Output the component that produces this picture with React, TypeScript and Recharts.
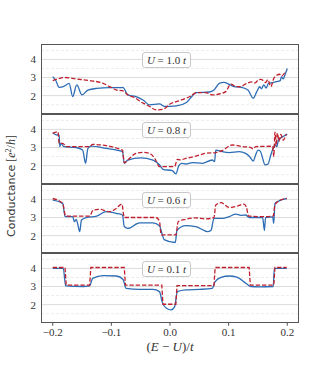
import { LineChart, Line, XAxis, YAxis, ReferenceLine } from "recharts";

const xTicks = [-0.2, -0.1, 0, 0.1, 0.2];
const yTicks = [2, 3, 4];
const gridMajor = [2, 3, 4];
const gridMinor = [1.5, 2.5, 3.5, 4.5];
const uLabels = ["1.0", "0.8", "0.6", "0.1"];

// [ (E-U)/t , conductance ]
const u10Blue = [
  [-0.2, 3.05], [-0.195, 2.85], [-0.189, 2.46], [-0.18, 2.53], [-0.172, 2.68], [-0.166, 1.95],
  [-0.159, 2.59], [-0.15, 2.04], [-0.14, 2.31], [-0.125, 2.4], [-0.103, 2.44], [-0.08, 2.44],
  [-0.072, 2.04], [-0.058, 1.95], [-0.046, 1.76], [-0.035, 1.49], [-0.018, 1.54], [-0.009, 1.4],
  [0.011, 1.43], [0.028, 1.62], [0.038, 1.98], [0.044, 2.17], [0.067, 2.2], [0.075, 2.31],
  [0.084, 2.68], [0.092, 2.73], [0.101, 2.62], [0.109, 2.5], [0.122, 2.46], [0.133, 2.31],
  [0.142, 1.86], [0.148, 2.22], [0.153, 2.49], [0.156, 2.38], [0.16, 2.59], [0.164, 2.42],
  [0.168, 2.68], [0.174, 2.72], [0.182, 2.77], [0.188, 2.83], [0.19, 3.05], [0.193, 2.92],
  [0.196, 3.14], [0.2, 3.5],
];
const u10Red = [
  [-0.2, 2.83], [-0.189, 2.95], [-0.18, 3.0], [-0.16, 2.92], [-0.137, 2.83], [-0.114, 2.68],
  [-0.103, 2.5], [-0.091, 2.31], [-0.08, 2.26], [-0.072, 2.04], [-0.058, 1.85], [-0.052, 1.7],
  [-0.04, 1.49], [-0.035, 1.4], [-0.023, 1.21], [-0.012, 1.24], [0.0, 1.54], [0.017, 1.73],
  [0.034, 1.95], [0.045, 2.16], [0.061, 2.17], [0.072, 2.04], [0.084, 2.09], [0.095, 2.22],
  [0.104, 2.64], [0.112, 2.5], [0.119, 2.49], [0.13, 2.66], [0.139, 2.76], [0.145, 2.7],
  [0.15, 2.85], [0.155, 2.9], [0.16, 2.8], [0.163, 2.72], [0.167, 2.88], [0.172, 2.5],
  [0.177, 2.95], [0.182, 3.12], [0.187, 3.18], [0.19, 3.08], [0.196, 3.28],
];

const u08Blue = [
  [-0.2, 3.82], [-0.194, 3.7], [-0.189, 3.68], [-0.188, 3.05], [-0.186, 3.23], [-0.181, 3.05],
  [-0.16, 3.0], [-0.149, 2.86], [-0.144, 2.13], [-0.14, 2.95], [-0.134, 3.08], [-0.109, 2.95],
  [-0.081, 2.77], [-0.078, 2.13], [-0.072, 2.31], [-0.05, 2.43], [-0.029, 2.31], [-0.018, 2.05],
  [-0.012, 1.8], [0.004, 1.72], [0.01, 1.55], [0.015, 2.0], [0.02, 2.13], [0.027, 2.09],
  [0.038, 2.17], [0.055, 2.13], [0.072, 2.31], [0.076, 2.22], [0.078, 2.86], [0.089, 2.77],
  [0.101, 2.72], [0.118, 2.77], [0.129, 2.68], [0.136, 2.49], [0.142, 2.25], [0.146, 2.59],
  [0.15, 2.86], [0.154, 2.8], [0.158, 2.4], [0.162, 2.04], [0.167, 2.08], [0.172, 2.6],
  [0.176, 2.96], [0.179, 3.14], [0.182, 3.05], [0.185, 3.41], [0.19, 3.55], [0.195, 3.65],
  [0.2, 3.74],
];
const u08Red = [
  [-0.2, 3.78], [-0.191, 3.87], [-0.189, 3.23], [-0.183, 3.23], [-0.177, 3.05], [-0.137, 3.05],
  [-0.132, 3.17], [-0.081, 2.86], [-0.078, 2.16], [-0.072, 2.31], [-0.058, 2.68], [-0.045, 2.73],
  [-0.035, 2.68], [-0.026, 2.4], [-0.018, 1.95], [0.008, 1.95], [0.0125, 2.35], [0.018, 2.32],
  [0.027, 2.4], [0.044, 2.52], [0.061, 2.68], [0.078, 2.72], [0.089, 2.83], [0.106, 3.14],
  [0.124, 3.05], [0.138, 3.0], [0.142, 2.92], [0.146, 3.05], [0.175, 3.07], [0.177, 2.5],
  [0.179, 3.85], [0.181, 3.1], [0.183, 3.8], [0.186, 3.35], [0.189, 3.72], [0.193, 3.4],
  [0.198, 3.74],
];

const u06Blue = [
  [-0.2, 3.96], [-0.183, 3.78], [-0.179, 3.05], [-0.166, 3.05], [-0.163, 2.77], [-0.16, 2.9],
  [-0.157, 2.59], [-0.154, 2.22], [-0.151, 2.86], [-0.143, 3.0], [-0.125, 3.08], [-0.109, 3.32],
  [-0.092, 3.23], [-0.081, 3.14], [-0.078, 2.5], [-0.072, 2.4], [-0.052, 2.7], [-0.029, 2.7],
  [-0.018, 2.55], [-0.013, 2.04], [-0.01, 1.78], [0.009, 1.62], [0.012, 2.3], [0.027, 2.55],
  [0.044, 2.5], [0.064, 2.22], [0.07, 2.3], [0.075, 2.95], [0.089, 2.95], [0.101, 3.05],
  [0.112, 3.19], [0.121, 3.12], [0.129, 3.14], [0.135, 3.0], [0.158, 3.0], [0.161, 2.28],
  [0.163, 3.0], [0.175, 3.04], [0.177, 2.68], [0.179, 3.78], [0.186, 3.92], [0.199, 4.05],
];
const u06Red = [
  [-0.2, 4.05], [-0.183, 3.78], [-0.178, 3.08], [-0.137, 3.08], [-0.131, 3.41], [-0.12, 3.45],
  [-0.103, 3.32], [-0.092, 3.5], [-0.082, 3.74], [-0.078, 3.0], [-0.024, 3.0], [-0.018, 2.8],
  [-0.015, 2.04], [0.01, 2.04], [0.014, 2.77], [0.027, 2.9], [0.044, 2.98], [0.061, 2.92],
  [0.075, 3.0], [0.078, 3.69], [0.087, 3.82], [0.101, 3.56], [0.115, 3.63], [0.126, 3.74],
  [0.13, 3.6], [0.134, 3.08], [0.158, 3.05], [0.176, 3.08], [0.179, 3.69], [0.186, 3.92],
  [0.199, 4.05],
];

const u01Blue = [
  [-0.2, 4.0], [-0.182, 4.0], [-0.178, 3.04], [-0.148, 3.0], [-0.137, 3.04], [-0.132, 3.45],
  [-0.114, 3.6], [-0.091, 3.58], [-0.08, 3.39], [-0.075, 2.9], [-0.052, 2.84], [-0.029, 2.84],
  [-0.018, 2.72], [-0.013, 2.11], [-0.006, 1.8], [0.002, 1.71], [0.008, 1.89], [0.0125, 2.72],
  [0.027, 2.81], [0.05, 2.84], [0.072, 2.9], [0.077, 3.27], [0.087, 3.5], [0.101, 3.58],
  [0.115, 3.5], [0.13, 3.17], [0.138, 3.0], [0.152, 2.98], [0.176, 3.0], [0.178, 4.0],
  [0.199, 4.0],
];
const u01Red = [
  [-0.2, 4.05], [-0.179, 4.05], [-0.177, 3.08], [-0.137, 3.08], [-0.135, 4.05], [-0.078, 4.05],
  [-0.076, 3.08], [-0.014, 3.08], [-0.012, 2.02], [0.01, 2.02], [0.012, 3.05], [0.075, 3.05],
  [0.077, 4.05], [0.135, 4.05], [0.137, 3.08], [0.177, 3.08], [0.179, 4.05], [0.199, 4.05],
];

const blues = [u10Blue, u08Blue, u06Blue, u01Blue];
const reds = [u10Red, u08Red, u06Red, u01Red];

const toRows = (pts: number[][]) => pts.map(([x, g]) => ({ x, g }));

const PANEL_TOP = 44;
const PANEL_H = 69.75;
const PLOT_LEFT = 41;
const PLOT_W = 258;
const CHART_W = PLOT_LEFT + PLOT_W + 6;
const AXIS_H = 40;

const serif = "'Liberation Serif', 'DejaVu Serif', serif";
const tickStyle = { fill: "#333", fontSize: 11, fontFamily: serif };
const fmtX = (v: number) => v.toFixed(1).replace("-", "\u2212");

function Panel({ index }: { index: number }) {
  const last = index === uLabels.length - 1;
  const top = PANEL_TOP + index * PANEL_H;
  const h = last ? PANEL_H + AXIS_H : PANEL_H;

  return (
    <div style={{ position: "absolute", left: 0, top, width: CHART_W, height: h }}>
      <LineChart width={CHART_W} height={h} margin={{ top: 0, right: 6, bottom: 0, left: 0 }}>
        <XAxis
          type="number"
          dataKey="x"
          domain={[-0.22, 0.22]}
          ticks={xTicks}
          hide={!last}
          height={AXIS_H}
          axisLine={false}
          tickLine={{ stroke: "#555" }}
          tickSize={3}
          tickMargin={2}
          tick={tickStyle}
          tickFormatter={fmtX}
          allowDataOverflow
        />
        <YAxis
          type="number"
          domain={[1, 4.85]}
          ticks={yTicks}
          width={PLOT_LEFT}
          axisLine={false}
          tickLine={false}
          tickSize={0}
          tickMargin={5}
          tick={tickStyle}
          allowDataOverflow
        />
        {gridMinor.map((v) => (
          <ReferenceLine key={`m${v}`} y={v} stroke="#e4e4e4" strokeWidth={0.7} strokeDasharray="3 2" />
        ))}
        {gridMajor.map((v) => (
          <ReferenceLine key={`M${v}`} y={v} stroke="#dcdcdc" strokeWidth={1} />
        ))}
        <Line
          data={toRows(blues[index])}
          dataKey="g"
          type="monotone"
          stroke="#2c6db5"
          strokeWidth={1.3}
          dot={false}
          isAnimationActive={false}
        />
        <Line
          data={toRows(reds[index])}
          dataKey="g"
          type={last ? "linear" : "monotone"}
          stroke="#c0202e"
          strokeWidth={1.3}
          strokeDasharray="4.4 1.9"
          dot={false}
          isAnimationActive={false}
        />
      </LineChart>
      <div
        style={{
          position: "absolute",
          left: PLOT_LEFT,
          top: 0,
          width: PLOT_W,
          height: PANEL_H,
          border: "1px solid #555",
          boxSizing: "border-box",
          pointerEvents: "none",
        }}
      />
      <div
        style={{
          position: "absolute",
          left: 142,
          top: 8,
          width: 49,
          height: 16,
          border: "1px solid #c8c8c8",
          borderRadius: 3,
          background: "#fff",
          boxSizing: "border-box",
          fontFamily: serif,
          fontSize: 11,
          lineHeight: "14px",
          textAlign: "center",
          color: "#333",
          whiteSpace: "nowrap",
        }}
      >
        <i>U</i> = {uLabels[index]} <i>t</i>
      </div>
    </div>
  );
}

export default function App() {
  return (
    <div style={{ position: "absolute", left: 0, top: 0, width: 332, height: 369, background: "#fff" }}>
      {uLabels.map((_, i) => (
        <Panel key={i} index={i} />
      ))}
      <svg width={332} height={369} style={{ position: "absolute", left: 0, top: 0, pointerEvents: "none" }}>
        <text
          transform="translate(15,186) rotate(-90)"
          textAnchor="middle"
          fill="#333"
          fontSize={11}
          fontFamily="'DejaVu Sans', sans-serif"
        >
          Conductance
          <tspan fontFamily={serif} fontSize={12}> [</tspan>
          <tspan fontFamily={serif} fontSize={12} fontStyle="italic">e</tspan>
          <tspan fontFamily={serif} fontSize={8} dy={-4}>2</tspan>
          <tspan fontFamily={serif} fontSize={12} dy={4}>/</tspan>
          <tspan fontFamily={serif} fontSize={12} fontStyle="italic">h</tspan>
          <tspan fontFamily={serif} fontSize={12}>]</tspan>
        </text>
        <text x={170} y={351} textAnchor="middle" fill="#333" fontSize={13} fontFamily={serif}>
          (<tspan fontStyle="italic">E</tspan> {"\u2212"} <tspan fontStyle="italic">U</tspan>)/<tspan fontStyle="italic">t</tspan>
        </text>
      </svg>
    </div>
  );
}
